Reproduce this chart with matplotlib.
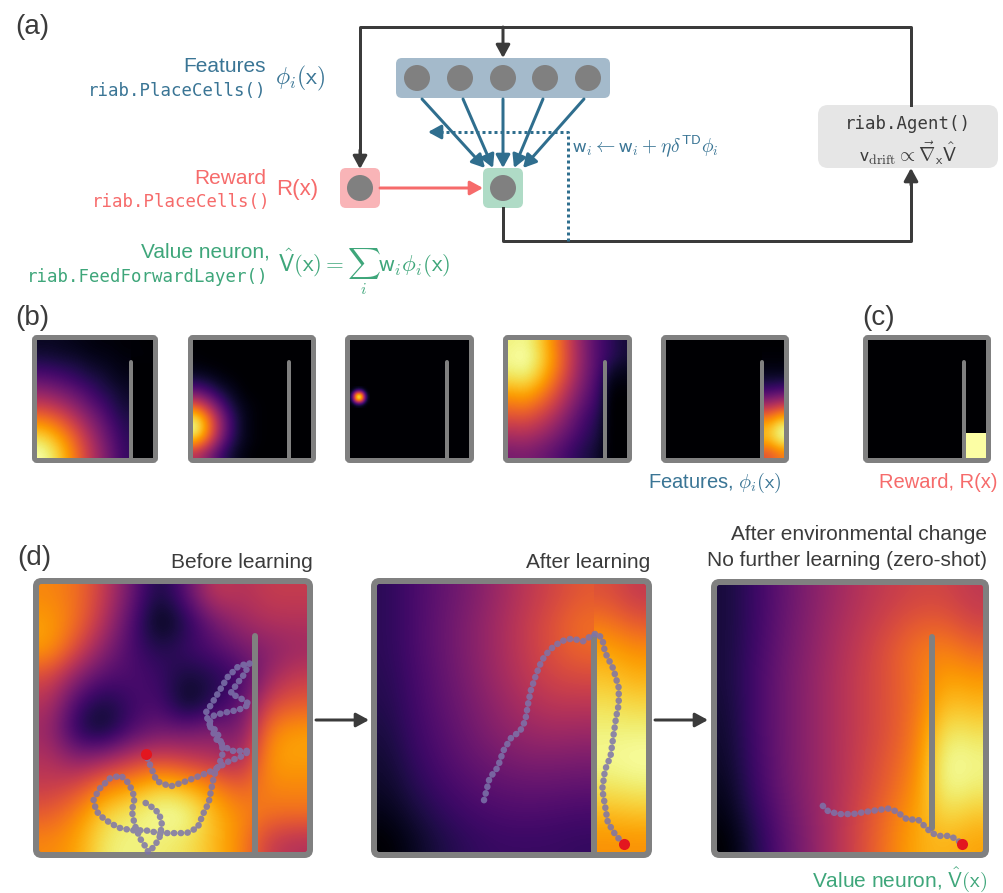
import numpy as np
import matplotlib.pyplot as plt
from matplotlib.patches import FancyBboxPatch, Circle, FancyArrowPatch

# ---- values ---------------------------------------------------------------
# environment: unit square, one wall at x = 0.8
wall_x = 0.8
wall_y = [0.0, 0.8]
wall_y_changed = [0.1, 0.8]     # after the change the wall leaves a gap at the bottom

# (b) place-cell feature maps, 10x10 cells, rows from top (y=0.95) to bottom (y=0.05)
feat1 = [
    [0.06, 0.06, 0.05, 0.04, 0.03, 0.02, 0.02, 0.01, 0.01, 0.00],
    [0.10, 0.09, 0.08, 0.07, 0.05, 0.04, 0.03, 0.02, 0.01, 0.01],
    [0.17, 0.16, 0.14, 0.12, 0.09, 0.07, 0.05, 0.03, 0.00, 0.00],
    [0.27, 0.25, 0.22, 0.18, 0.14, 0.11, 0.07, 0.05, 0.00, 0.00],
    [0.39, 0.36, 0.32, 0.27, 0.21, 0.15, 0.11, 0.07, 0.00, 0.00],
    [0.52, 0.49, 0.43, 0.36, 0.28, 0.21, 0.14, 0.09, 0.00, 0.00],
    [0.67, 0.63, 0.56, 0.46, 0.36, 0.27, 0.18, 0.12, 0.00, 0.00],
    [0.81, 0.76, 0.67, 0.56, 0.43, 0.32, 0.22, 0.14, 0.00, 0.00],
    [0.92, 0.86, 0.76, 0.63, 0.49, 0.36, 0.25, 0.16, 0.00, 0.00],
    [0.98, 0.92, 0.81, 0.67, 0.52, 0.39, 0.27, 0.17, 0.00, 0.00],
]
feat2 = [
    [0.00, 0.00, 0.00, 0.00, 0.00, 0.00, 0.00, 0.00, 0.00, 0.00],
    [0.01, 0.00, 0.00, 0.00, 0.00, 0.00, 0.00, 0.00, 0.00, 0.00],
    [0.03, 0.02, 0.01, 0.00, 0.00, 0.00, 0.00, 0.00, 0.00, 0.00],
    [0.11, 0.08, 0.04, 0.02, 0.00, 0.00, 0.00, 0.00, 0.00, 0.00],
    [0.29, 0.21, 0.11, 0.05, 0.01, 0.00, 0.00, 0.00, 0.00, 0.00],
    [0.59, 0.43, 0.23, 0.09, 0.03, 0.01, 0.00, 0.00, 0.00, 0.00],
    [0.87, 0.65, 0.35, 0.14, 0.04, 0.01, 0.00, 0.00, 0.00, 0.00],
    [0.95, 0.70, 0.38, 0.15, 0.04, 0.01, 0.00, 0.00, 0.00, 0.00],
    [0.77, 0.57, 0.30, 0.12, 0.04, 0.01, 0.00, 0.00, 0.00, 0.00],
    [0.46, 0.34, 0.18, 0.07, 0.02, 0.00, 0.00, 0.00, 0.00, 0.00],
]
# the third cell is tiny: only a small patch around it is given
feat3_patch = [
    [0.00, 0.01, 0.02, 0.04, 0.02, 0.01, 0.00],
    [0.01, 0.06, 0.22, 0.30, 0.22, 0.06, 0.01],
    [0.02, 0.22, 0.65, 0.80, 0.65, 0.22, 0.02],
    [0.04, 0.30, 0.80, 1.00, 0.80, 0.30, 0.04],
    [0.02, 0.22, 0.65, 0.80, 0.65, 0.22, 0.02],
    [0.01, 0.06, 0.22, 0.30, 0.22, 0.06, 0.01],
    [0.00, 0.01, 0.02, 0.04, 0.02, 0.01, 0.00],
]
feat3_extent = [0.0, 0.175, 0.43, 0.605]
feat4 = [
    [0.96, 0.98, 0.92, 0.80, 0.66, 0.49, 0.34, 0.23, 0.16, 0.10],
    [0.98, 1.00, 0.94, 0.82, 0.67, 0.50, 0.35, 0.23, 0.16, 0.10],
    [0.96, 0.98, 0.92, 0.80, 0.66, 0.49, 0.34, 0.23, 0.10, 0.06],
    [0.90, 0.92, 0.86, 0.75, 0.61, 0.46, 0.32, 0.21, 0.04, 0.03],
    [0.80, 0.82, 0.77, 0.67, 0.55, 0.41, 0.29, 0.19, 0.01, 0.01],
    [0.70, 0.72, 0.67, 0.59, 0.48, 0.36, 0.25, 0.17, 0.00, 0.00],
    [0.60, 0.61, 0.57, 0.50, 0.41, 0.30, 0.21, 0.14, 0.00, 0.00],
    [0.50, 0.51, 0.48, 0.42, 0.34, 0.26, 0.18, 0.12, 0.00, 0.00],
    [0.41, 0.42, 0.39, 0.34, 0.28, 0.21, 0.15, 0.10, 0.00, 0.00],
    [0.33, 0.34, 0.32, 0.28, 0.23, 0.17, 0.12, 0.08, 0.00, 0.00],
]
feat5 = [
    [0, 0, 0, 0, 0, 0, 0, 0, 0.00, 0.00],
    [0, 0, 0, 0, 0, 0, 0, 0, 0.01, 0.01],
    [0, 0, 0, 0, 0, 0, 0, 0, 0.03, 0.03],
    [0, 0, 0, 0, 0, 0, 0, 0, 0.09, 0.10],
    [0, 0, 0, 0, 0, 0, 0, 0, 0.22, 0.26],
    [0, 0, 0, 0, 0, 0, 0, 0, 0.44, 0.52],
    [0, 0, 0, 0, 0, 0, 0, 0, 0.69, 0.81],
    [0, 0, 0, 0, 0, 0, 0, 0, 0.84, 0.99],
    [0, 0, 0, 0, 0, 0, 0, 0, 0.80, 0.94],
    [0, 0, 0, 0, 0, 0, 0, 0, 0.60, 0.70],
]
feature_split = [True, True, False, False, True]   # field blocked by the wall?

# (c) reward: 9 rows x 5 columns, top row first
reward_grid = [
    [0, 0, 0, 0, 0],
    [0, 0, 0, 0, 0],
    [0, 0, 0, 0, 0],
    [0, 0, 0, 0, 0],
    [0, 0, 0, 0, 0],
    [0, 0, 0, 0, 0],
    [0, 0, 0, 0, 0],
    [0, 0, 0, 0, 1],
    [0, 0, 0, 0, 1],
]

# (d) value maps, 10x10 cells, rows from top to bottom
value_before = [
    [0.70, 0.65, 0.50, 0.28, 0.08, 0.25, 0.50, 0.45, 0.50, 0.50],
    [0.75, 0.65, 0.45, 0.22, 0.00, 0.12, 0.30, 0.40, 0.45, 0.45],
    [0.75, 0.55, 0.35, 0.20, 0.12, 0.18, 0.22, 0.30, 0.35, 0.40],
    [0.55, 0.35, 0.22, 0.22, 0.18, 0.08, 0.12, 0.18, 0.40, 0.50],
    [0.45, 0.18, 0.08, 0.18, 0.22, 0.02, 0.15, 0.25, 0.55, 0.60],
    [0.40, 0.12, 0.05, 0.22, 0.30, 0.30, 0.35, 0.30, 0.70, 0.75],
    [0.45, 0.35, 0.40, 0.50, 0.55, 0.50, 0.45, 0.40, 0.75, 0.75],
    [0.50, 0.55, 0.70, 0.75, 0.85, 0.80, 0.70, 0.60, 0.70, 0.70],
    [0.60, 0.70, 0.85, 0.90, 0.95, 0.95, 0.80, 0.70, 0.65, 0.65],
    [0.70, 0.75, 0.90, 0.92, 0.90, 0.88, 0.80, 0.70, 0.50, 0.45],
]
value_after = [
    [0.15, 0.22, 0.28, 0.34, 0.42, 0.50, 0.56, 0.62, 0.60, 0.52],
    [0.15, 0.22, 0.29, 0.36, 0.44, 0.52, 0.60, 0.68, 0.70, 0.62],
    [0.15, 0.22, 0.29, 0.36, 0.44, 0.52, 0.60, 0.66, 0.80, 0.75],
    [0.14, 0.21, 0.28, 0.35, 0.43, 0.50, 0.56, 0.58, 0.86, 0.82],
    [0.13, 0.20, 0.27, 0.33, 0.40, 0.46, 0.50, 0.50, 0.92, 0.90],
    [0.11, 0.19, 0.25, 0.31, 0.37, 0.41, 0.43, 0.42, 0.96, 0.96],
    [0.09, 0.17, 0.23, 0.28, 0.32, 0.35, 0.35, 0.34, 0.98, 1.00],
    [0.07, 0.14, 0.20, 0.24, 0.27, 0.28, 0.28, 0.27, 0.93, 0.95],
    [0.04, 0.10, 0.16, 0.20, 0.22, 0.23, 0.22, 0.21, 0.84, 0.86],
    [0.00, 0.06, 0.12, 0.16, 0.18, 0.18, 0.18, 0.17, 0.76, 0.76],
]
value_changed = [
    [0.10, 0.18, 0.27, 0.35, 0.42, 0.48, 0.52, 0.55, 0.55, 0.50],
    [0.10, 0.18, 0.28, 0.36, 0.44, 0.50, 0.56, 0.62, 0.62, 0.55],
    [0.10, 0.19, 0.29, 0.37, 0.45, 0.52, 0.60, 0.68, 0.72, 0.65],
    [0.10, 0.20, 0.30, 0.38, 0.46, 0.53, 0.60, 0.68, 0.78, 0.75],
    [0.09, 0.20, 0.30, 0.38, 0.46, 0.53, 0.60, 0.68, 0.85, 0.82],
    [0.08, 0.20, 0.30, 0.38, 0.46, 0.53, 0.60, 0.70, 0.93, 0.90],
    [0.07, 0.19, 0.30, 0.38, 0.46, 0.54, 0.62, 0.72, 0.98, 0.95],
    [0.05, 0.18, 0.29, 0.38, 0.46, 0.55, 0.64, 0.75, 0.97, 0.93],
    [0.03, 0.15, 0.27, 0.37, 0.47, 0.57, 0.68, 0.78, 0.90, 0.85],
    [0.00, 0.12, 0.25, 0.36, 0.47, 0.58, 0.70, 0.80, 0.82, 0.78],
]

# agent trajectories (last point = current position, red dot)
before_x = [0.40, 0.43, 0.45, 0.46, 0.45, 0.43, 0.41, 0.40, 0.38, 0.36, 0.35, 0.36, 0.34,
            0.31, 0.27, 0.23, 0.21, 0.22, 0.25, 0.30, 0.35, 0.40, 0.45, 0.50, 0.55, 0.59,
            0.61, 0.63, 0.64, 0.65, 0.68, 0.68, 0.66, 0.63, 0.62, 0.64, 0.67, 0.70, 0.74,
            0.78, 0.76, 0.73, 0.71, 0.75, 0.78, 0.74, 0.69, 0.65, 0.63, 0.66, 0.71, 0.78,
            0.75, 0.70, 0.65, 0.60, 0.55, 0.49, 0.44, 0.42, 0.40]
before_y = [0.19, 0.17, 0.15, 0.11, 0.06, 0.03, 0.01, 0.03, 0.06, 0.11, 0.16, 0.21, 0.26,
            0.29, 0.28, 0.24, 0.20, 0.16, 0.13, 0.10, 0.09, 0.09, 0.08, 0.08, 0.08, 0.10,
            0.15, 0.19, 0.24, 0.29, 0.36, 0.40, 0.45, 0.48, 0.52, 0.55, 0.60, 0.65, 0.69,
            0.70, 0.66, 0.62, 0.59, 0.57, 0.55, 0.53, 0.52, 0.51, 0.48, 0.42, 0.38, 0.38,
            0.36, 0.34, 0.31, 0.29, 0.27, 0.25, 0.27, 0.32, 0.37]
after_x = [0.40, 0.41, 0.42, 0.45, 0.47, 0.50, 0.53, 0.55, 0.56, 0.57, 0.59, 0.61, 0.64,
           0.68, 0.72, 0.76, 0.79, 0.81, 0.83, 0.84, 0.87, 0.89, 0.89, 0.88, 0.87, 0.86,
           0.84, 0.83, 0.84, 0.85, 0.88, 0.91]
after_y = [0.20, 0.24, 0.28, 0.32, 0.38, 0.43, 0.45, 0.49, 0.55, 0.60, 0.66, 0.71, 0.75,
           0.78, 0.79, 0.78, 0.80, 0.81, 0.79, 0.74, 0.68, 0.61, 0.55, 0.50, 0.43, 0.36,
           0.31, 0.24, 0.18, 0.12, 0.07, 0.04]
changed_x = [0.40, 0.42, 0.46, 0.51, 0.57, 0.64, 0.67, 0.71, 0.75, 0.78, 0.80, 0.83, 0.87,
             0.90, 0.91]
changed_y = [0.18, 0.16, 0.15, 0.15, 0.16, 0.17, 0.16, 0.13, 0.13, 0.10, 0.08, 0.07, 0.07,
             0.05, 0.04]

# ---- figure ------------------------------------------------------------------
plt.rcParams['font.family'] = ['Liberation Sans', 'DejaVu Sans']
plt.rcParams['mathtext.fontset'] = 'cm'

W, H = 1004, 893
fig = plt.figure(figsize=(W / 100, H / 100), dpi=100)

DARK = '#3b3b3b'
GREY = '#808080'
BLUE = '#3a7595'
ARROW_BLUE = '#2f6e8e'
PINK = '#f66b6b'
GREEN = '#3ea67a'
TRAJ = '#7c74ab'
MONO = 'DejaVu Sans Mono'
PX = 0.72   # points per pixel


def px_rect(x0, y0, x1, y1):
    return [x0 / W, 1 - y1 / H, (x1 - x0) / W, (y1 - y0) / H]


# overlay in pixel coordinates for the schematic, labels and arrows
ov = fig.add_axes([0, 0, 1, 1])
ov.set_xlim(0, W)
ov.set_ylim(H, 0)
ov.axis('off')


def arrow(p0, p1, color=DARK, lw=3):
    ov.add_patch(FancyArrowPatch(p0, p1, arrowstyle='-|>,head_length=0.55,head_width=0.3',
                                 mutation_scale=14, color=color, lw=lw * PX,
                                 shrinkA=0, shrinkB=0))


# ---- (a) schematic -----------------------------------------------------------
ov.text(15, 27, '(a)', fontsize=20, color=DARK, va='center')

# feedback loop
ov.plot([360, 360, 911, 911], [160, 27, 27, 105], color=DARK, lw=3 * PX)
arrow((360, 150), (360, 169))
arrow((503, 27), (503, 58))
ov.plot([503, 503, 911, 911], [208, 241, 241, 180], color=DARK, lw=3 * PX)
arrow((911, 185), (911, 168))

# learning signal (dotted)
ov.plot([568, 568, 440], [241, 132, 132], color=ARROW_BLUE, lw=3 * PX, ls=(0, (1, 1)))
arrow((442, 132), (428, 132), color=ARROW_BLUE)

# boxes
ov.add_patch(FancyBboxPatch((396, 58), 214, 40, boxstyle='round,pad=0,rounding_size=6',
                            fc='#a4bacb', ec='none'))
ov.add_patch(FancyBboxPatch((483, 168), 40, 40, boxstyle='round,pad=0,rounding_size=6',
                            fc='#afdbc6', ec='none'))
ov.add_patch(FancyBboxPatch((340, 168), 40, 40, boxstyle='round,pad=0,rounding_size=6',
                            fc='#f9b4b7', ec='none'))
ov.add_patch(FancyBboxPatch((818, 105), 180, 63, boxstyle='round,pad=0,rounding_size=10',
                            fc='#e6e6e6', ec='none'))

for cx in [417, 460, 503, 545, 588]:
    ov.add_patch(Circle((cx, 78), 13, fc=GREY, ec='none'))
ov.add_patch(Circle((503, 188), 13, fc=GREY, ec='none'))
ov.add_patch(Circle((360, 188), 13, fc=GREY, ec='none'))

# feature -> value connections
for xs, xe in zip([422, 463, 503, 543, 584], [485, 493, 503, 514, 523]):
    arrow((xs, 99), (xe, 168), color=ARROW_BLUE)
arrow((380, 188), (483, 188), color=PINK)

ov.text(572, 146, r'$\mathsf{w}_i \leftarrow \mathsf{w}_i + \eta\delta^{\mathsf{TD}}\phi_i$',
        fontsize=14, color=BLUE, va='center')
ov.text(908, 124, 'riab.Agent()', family=MONO, fontsize=12.5, color=DARK,
        ha='center', va='center')
ov.text(908, 153, r'$\mathsf{v}_{\mathrm{drift}} \propto \vec{\nabla}_{\mathsf{x}}\hat{\mathsf{V}}$',
        fontsize=14, color=DARK, ha='center', va='center')

ov.text(266, 67, 'Features', fontsize=15, color=BLUE, ha='right', va='center')
ov.text(266, 91, 'riab.PlaceCells()', family=MONO, fontsize=12.5, color=BLUE,
        ha='right', va='center')
ov.text(275, 78, r'$\phi_i(\mathsf{x})$', fontsize=17, color=BLUE, va='center')

ov.text(266, 178, 'Reward', fontsize=15, color=PINK, ha='right', va='center')
ov.text(270, 202, 'riab.PlaceCells()', family=MONO, fontsize=12.5, color=PINK,
        ha='right', va='center')
ov.text(276, 190, 'R(x)', fontsize=16, color=PINK, va='center')

ov.text(270, 252, 'Value neuron,', fontsize=15, color=GREEN, ha='right', va='center')
ov.text(268, 277, 'riab.FeedForwardLayer()', family=MONO, fontsize=12.5, color=GREEN,
        ha='right', va='center')
ov.text(278, 272, r'$\hat{\mathsf{V}}(\mathsf{x}) = \sum_i \mathsf{w}_i\phi_i(\mathsf{x})$',
        fontsize=16.5, color=GREEN, va='baseline')


# ---- environment panels -----------------------------------------------------
def arena(box, border_px, wall_px, walls):
    x0, y0, x1, y1 = box
    h = border_px / 2
    ax = fig.add_axes(px_rect(x0 + h, y0 + h, x1 - h, y1 - h))
    ax.set_facecolor(plt.cm.inferno(0.0))
    ax.set_xticks([])
    ax.set_yticks([])
    for s in ax.spines.values():
        s.set_visible(False)
    ax.add_patch(FancyBboxPatch((0, 0), 1, 1, boxstyle='round,pad=0,rounding_size=0.02',
                                transform=ax.transAxes, fill=False, ec=GREY,
                                lw=border_px * PX, clip_on=False, zorder=6))
    ax.plot([wall_x, wall_x], walls, color=GREY, lw=wall_px * PX,
            solid_capstyle='round', zorder=5)
    return ax


def show_map(ax, grid, split=True, extent=(0, 1, 0, 1), vmax=None, interp='bicubic'):
    g = np.array(grid, dtype=float)
    kw = dict(cmap='inferno', vmin=0, vmax=vmax if vmax else g.max(),
              interpolation=interp, interpolation_stage='data', aspect='auto')
    if split:
        ax.imshow(g[:, :8], extent=[0, wall_x, 0, 1], **kw)
        ax.imshow(g[:, 8:], extent=[wall_x, 1, 0, 1], **kw)
    else:
        ax.imshow(g, extent=list(extent), **kw)
    ax.set_xlim(0, 1)
    ax.set_ylim(0, 1)


# (b)
ov.text(15, 318, '(b)', fontsize=20, color=DARK, va='center')
b_boxes = [(32, 335, 158, 463), (188, 335, 316, 463), (345, 335, 474, 463),
           (503, 335, 632, 463), (661, 335, 789, 463)]
features = [feat1, feat2, feat3_patch, feat4, feat5]
for i, box in enumerate(b_boxes):
    ax = arena(box, 5, 4, wall_y)
    if i == 2:
        show_map(ax, features[i], split=False, extent=feat3_extent)
    else:
        show_map(ax, features[i], split=feature_split[i])
ov.text(782, 483, r'Features, $\phi_i(\mathsf{x})$', fontsize=14.5, color=BLUE,
        ha='right', va='center')

# (c)
ov.text(862, 318, '(c)', fontsize=20, color=DARK, va='center')
ax = arena((863, 335, 991, 463), 5, 4, wall_y)
show_map(ax, reward_grid, split=False, vmax=1, interp='nearest')
ov.text(998, 483, 'Reward, R(x)', fontsize=14.5, color=PINK, ha='right', va='center')

# (d)
ov.text(17, 558, '(d)', fontsize=20, color=DARK, va='center')
d_boxes = [(33, 578, 313, 858), (371, 578, 652, 858), (711, 579, 989, 858)]
maps = [value_before, value_after, value_changed]
walls = [wall_y, wall_y, wall_y_changed]
trajs = [(before_x, before_y), (after_x, after_y), (changed_x, changed_y)]
for box, m, wl, (tx, ty), split in zip(d_boxes, maps, walls, trajs, [False, True, False]):
    ax = arena(box, 6, 6, wl)
    show_map(ax, m, split=split)
    ax.plot(tx, ty, color=TRAJ, lw=6.5 * PX, ls=(0, (0.05, 1.0)),
            dash_capstyle='round', alpha=0.85, zorder=7)
    ax.plot(tx[-1], ty[-1], 'o', ms=8, color='#e3161f', mec='none', zorder=8)

ov.text(313, 562, 'Before learning', fontsize=15, color=DARK, ha='right', va='center')
ov.text(650, 562, 'After learning', fontsize=15, color=DARK, ha='right', va='center')
ov.text(987, 535, 'After environmental change', fontsize=15, color=DARK,
        ha='right', va='center')
ov.text(987, 560, 'No further learning (zero-shot)', fontsize=15, color=DARK,
        ha='right', va='center')
ov.text(987, 880, r'Value neuron, $\hat{\mathsf{V}}(\mathsf{x})$', fontsize=15,
        color=GREEN, ha='right', va='center')

arrow((316, 720), (369, 720))
arrow((655, 720), (708, 720))

fig.savefig('out.png', dpi=100)
